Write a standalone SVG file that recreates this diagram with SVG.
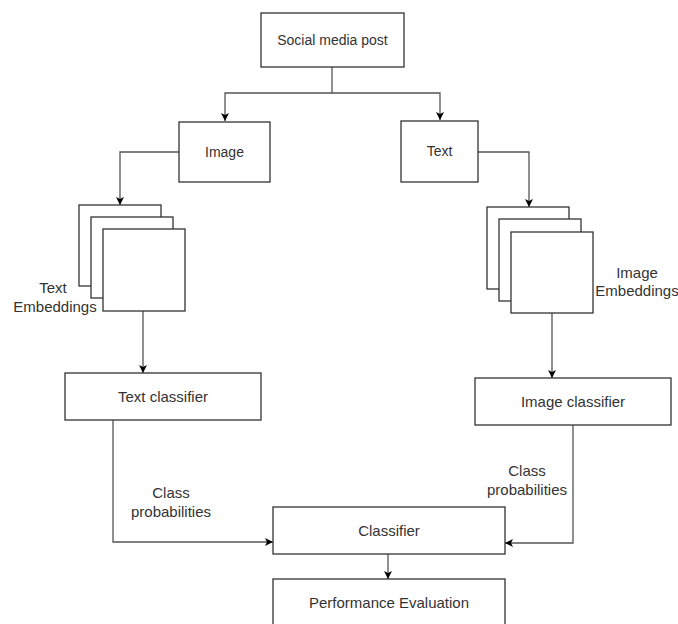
<svg xmlns="http://www.w3.org/2000/svg" width="678" height="624" viewBox="0 0 678 624">
  <style>
    .box { fill: #ffffff; stroke: #333333; stroke-width: 1.3; }
    .lbl { font-family: "Liberation Sans", Arial, sans-serif; font-size: 15px; fill: #333333; text-anchor: middle; }
    .sm { font-size: 14px; }
    .edge { fill: none; stroke: #555555; stroke-width: 1.3; }
  </style>
  <defs>
    <marker id="arr" markerWidth="10" markerHeight="10" refX="8" refY="4" orient="auto" markerUnits="userSpaceOnUse">
      <path d="M0,0 L8,4 L0,8 L2,4 z" fill="#000000"/>
    </marker>
  </defs>
  <rect width="678" height="624" fill="#ffffff"/>

  <g id="connectors">
    <path class="edge" d="M332,67 V93 H225 V121" marker-end="url(#arr)"/>
    <path class="edge" d="M332,93 H440 V120" marker-end="url(#arr)"/>
    <path class="edge" d="M179,152 H120 V205" marker-end="url(#arr)"/>
    <path class="edge" d="M478,152 H529 V207" marker-end="url(#arr)"/>
    <path class="edge" d="M143,311 V373" marker-end="url(#arr)"/>
    <path class="edge" d="M552,313 V378" marker-end="url(#arr)"/>
    <path class="edge" d="M113,420 V542 H273" marker-end="url(#arr)"/>
    <path class="edge" d="M573,425 V543 H505" marker-end="url(#arr)"/>
    <path class="edge" d="M388,554 V579" marker-end="url(#arr)"/>
  </g>

  <g id="post">
    <rect class="box" x="261" y="13" width="143" height="54"/>
    <text class="lbl sm" x="332.5" y="45">Social media post</text>
  </g>
  <g id="image">
    <rect class="box" x="179" y="122" width="91" height="60"/>
    <text class="lbl sm" x="224.5" y="157">Image</text>
  </g>
  <g id="text">
    <rect class="box" x="401" y="121" width="77" height="61"/>
    <text class="lbl sm" x="439.5" y="156">Text</text>
  </g>
  <g id="text-embeddings">
    <rect class="box" x="79" y="205" width="82" height="81"/>
    <rect class="box" x="91" y="217" width="82" height="81"/>
    <rect class="box" x="103" y="229" width="82" height="82"/>
    <text class="lbl" x="53" y="293">Text</text>
    <text class="lbl" x="55" y="312">Embeddings</text>
  </g>
  <g id="image-embeddings">
    <rect class="box" x="487" y="207" width="82" height="82"/>
    <rect class="box" x="499" y="219" width="82" height="82"/>
    <rect class="box" x="511" y="232" width="82" height="81"/>
    <text class="lbl" x="637" y="278">Image</text>
    <text class="lbl" x="637" y="296">Embeddings</text>
  </g>
  <g id="text-classifier">
    <rect class="box" x="65" y="373" width="196" height="47"/>
    <text class="lbl" x="163" y="402">Text classifier</text>
  </g>
  <g id="image-classifier">
    <rect class="box" x="475" y="378" width="196" height="47"/>
    <text class="lbl" x="573" y="407">Image classifier</text>
  </g>
  <g id="left-probs">
    <text class="lbl" x="171" y="498">Class</text>
    <text class="lbl" x="171" y="517">probabilities</text>
  </g>
  <g id="right-probs">
    <text class="lbl" x="527" y="476">Class</text>
    <text class="lbl" x="527" y="495">probabilities</text>
  </g>
  <g id="classifier">
    <rect class="box" x="273" y="507" width="232" height="47"/>
    <text class="lbl" x="389" y="536">Classifier</text>
  </g>
  <g id="performance">
    <rect class="box" x="273" y="579" width="232" height="60"/>
    <text class="lbl" x="389" y="608">Performance Evaluation</text>
  </g>
</svg>
